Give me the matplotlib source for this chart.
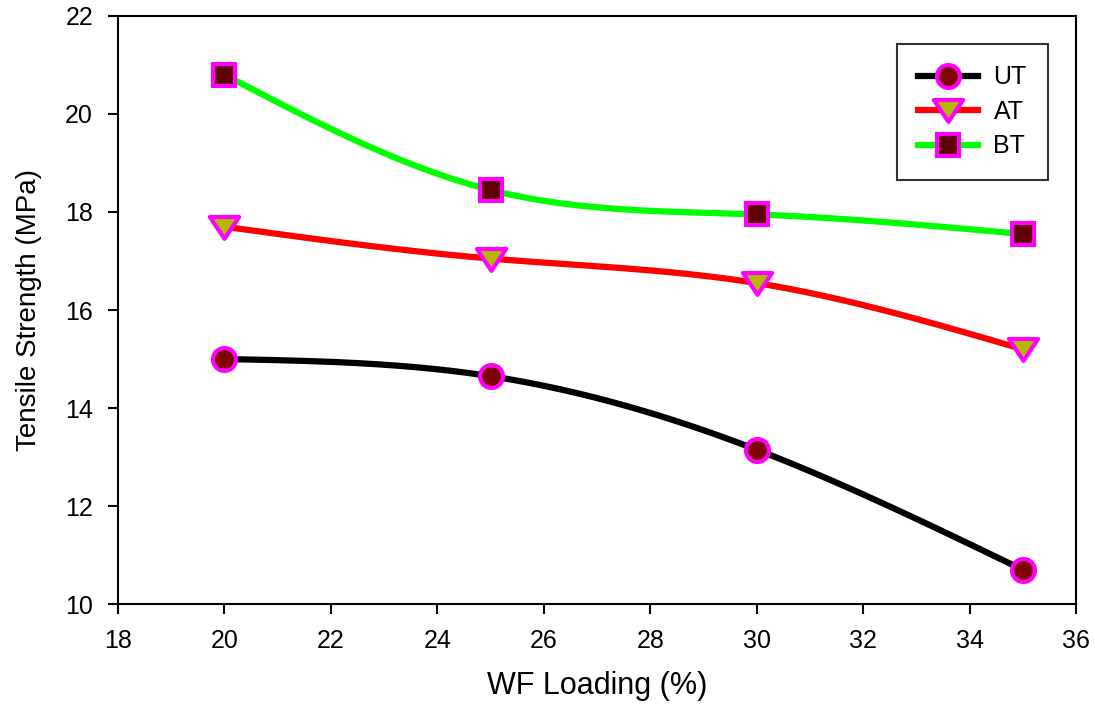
import numpy as np
import matplotlib
matplotlib.use("Agg")
import matplotlib.pyplot as plt
from matplotlib.path import Path

plt.rcParams['font.family'] = ['Liberation Sans', 'DejaVu Sans']

wf_loading = [20, 25, 30, 35]
ut = [15.0, 14.65, 13.15, 10.7]
at = [17.7, 17.05, 16.55, 15.2]
bt = [20.8, 18.45, 17.95, 17.55]


def natural_spline(x, y, n=200):
    x = np.asarray(x, float)
    y = np.asarray(y, float)
    k = len(x)
    h = np.diff(x)
    A = np.zeros((k, k))
    b = np.zeros(k)
    A[0, 0] = 1
    A[-1, -1] = 1
    for i in range(1, k - 1):
        A[i, i - 1] = h[i - 1]
        A[i, i] = 2 * (h[i - 1] + h[i])
        A[i, i + 1] = h[i]
        b[i] = 6 * ((y[i + 1] - y[i]) / h[i] - (y[i] - y[i - 1]) / h[i - 1])
    M = np.linalg.solve(A, b)
    xs = np.linspace(x[0], x[-1], n)
    ys = np.empty_like(xs)
    for j, xv in enumerate(xs):
        i = min(np.searchsorted(x, xv, side='right') - 1, k - 2)
        t1 = x[i + 1] - xv
        t0 = xv - x[i]
        ys[j] = (M[i] * t1 ** 3 / (6 * h[i]) + M[i + 1] * t0 ** 3 / (6 * h[i])
                 + (y[i] / h[i] - M[i] * h[i] / 6) * t1
                 + (y[i + 1] / h[i] - M[i + 1] * h[i] / 6) * t0)
    return xs, ys


tri_down = Path([(-1, 0.72), (1, 0.72), (0, -0.78), (-1, 0.72)],
                [Path.MOVETO, Path.LINETO, Path.LINETO, Path.CLOSEPOLY])

fig = plt.figure(figsize=(10.95, 7.04), dpi=100)
ax = fig.add_axes([0.1078, 0.142, 0.8748, 0.8353])

series = [
    ("UT", ut, 'black', 'o', '#800000', 16.5),
    ("AT", at, '#ff0000', tri_down, '#b5b800', 21),
    ("BT", bt, '#00ff00', 's', '#600000', 15.5),
]
for name, vals, lc, mk, fc, ms in series:
    xs, ys = natural_spline(wf_loading, vals)
    ax.plot(xs, ys, color=lc, lw=4.5, solid_capstyle='butt', zorder=2)
    ax.plot(wf_loading, vals, linestyle='none', marker=mk, markersize=ms,
            markerfacecolor=fc, markeredgecolor='#ff00ff', markeredgewidth=3, zorder=3)
    ax.plot([], [], color=lc, lw=4.5, marker=mk, markersize=ms,
            markerfacecolor=fc, markeredgecolor='#ff00ff', markeredgewidth=3, label=name)

ax.set_xlim(18, 36)
ax.set_ylim(10, 22)
ax.set_xticks(np.arange(18, 37, 2))
ax.set_yticks(np.arange(10, 23, 2))
ax.tick_params(direction='out', length=7, width=1.5, labelsize=18, top=False, right=False)
ax.tick_params(axis='y', pad=11)
ax.tick_params(axis='x', pad=11)
for s in ax.spines.values():
    s.set_linewidth(1.5)
ax.set_xlabel('WF Loading (%)', fontsize=22, labelpad=13)
ax.set_ylabel('Tensile Strength (MPa)', fontsize=20, labelpad=17)

leg = ax.legend(loc='upper right', bbox_to_anchor=(0.9708, 0.952), fontsize=18,
                frameon=True, fancybox=False, edgecolor='black', handlelength=2.4,
                borderpad=0.85, labelspacing=0.42, handletextpad=0.6, borderaxespad=0)
leg.get_frame().set_linewidth(1.5)

fig.savefig('out.png', dpi=100)
